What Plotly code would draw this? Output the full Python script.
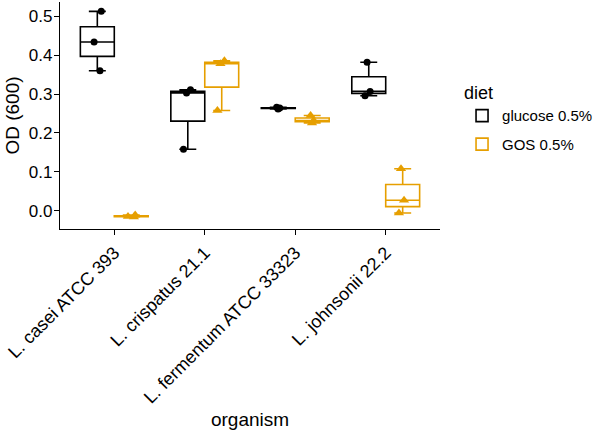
import plotly.graph_objects as go

organisms = ["L. casei ATCC 393", "L. crispatus 21.1", "L. fermentum ATCC 33323", "L. johnsonii 22.2"]

glucose_vals = {
    "L. casei ATCC 393": [0.360, 0.434, 0.513],
    "L. crispatus 21.1": [0.158, 0.303, 0.311],
    "L. fermentum ATCC 33323": [0.262, 0.264, 0.266],
    "L. johnsonii 22.2": [0.296, 0.307, 0.382],
}
gos_vals = {
    "L. casei ATCC 393": [-0.016, -0.015, -0.011],
    "L. crispatus 21.1": [0.258, 0.378, 0.386],
    "L. fermentum ATCC 33323": [0.226, 0.232, 0.245],
    "L. johnsonii 22.2": [-0.006, 0.027, 0.108],
}

diets = ["glucose 0.5%", "GOS 0.5%"]
colors = ["#000000", "#E69F00"]
symbols = ["circle", "triangle-up"]
marker_sizes = [7, 9]
y_ticks = [0.0, 0.1, 0.2, 0.3, 0.4, 0.5]

fig = go.Figure()
for name, vals, col, sym, ms in zip(diets, [glucose_vals, gos_vals], colors, symbols, marker_sizes):
    xs, ys = [], []
    for org in organisms:
        for v in vals[org]:
            xs.append(org)
            ys.append(v)
    fig.add_trace(go.Box(
        x=xs, y=ys, name=name, legendgroup=name,
        line=dict(color=col, width=1.6),
        fillcolor="rgba(255,255,255,0)",
        boxpoints="all", jitter=0.3, pointpos=0,
        marker=dict(color=col, symbol=sym, size=ms),
        quartilemethod="inclusive",
        hoverinfo="skip",
    ))

font = "Liberation Sans, Arial, sans-serif"
fig.update_layout(
    width=600, height=433,
    margin=dict(l=60, r=149, t=2, b=204),
    plot_bgcolor="white", paper_bgcolor="white",
    boxmode="group", boxgap=0.25, boxgroupgap=0,
    font=dict(family=font, color="black"),
    showlegend=True,
    legend=dict(
        title=dict(text="diet", font=dict(size=18, color="black")),
        x=1.058, xanchor="left", y=0.487, yanchor="middle",
        font=dict(size=15, color="black"),
        tracegroupgap=6,
    ),
    xaxis=dict(
        title=dict(text="organism", font=dict(size=19, color="black"), standoff=6),
        categoryorder="array", categoryarray=organisms,
        range=[-0.6, 3.6], automargin=False,
        showline=True, linecolor="black", linewidth=1.2,
        ticks="outside", ticklen=5, tickcolor="black",
        tickangle=-45,
        tickfont=dict(size=18, color="black"),
        showgrid=False, zeroline=False,
    ),
    yaxis=dict(
        title=dict(text="OD (600)", font=dict(size=19, color="black"), standoff=4),
        range=[-0.047, 0.537], automargin=False,
        tickvals=y_ticks, tickformat=".1f",
        showline=True, linecolor="black", linewidth=1.2,
        ticks="outside", ticklen=5, tickcolor="black",
        tickfont=dict(size=17, color="black"),
        ticklabelstandoff=-2,
        showgrid=False, zeroline=False,
    ),
)

fig.write_html("out.html", config={"displayModeBar": False},
               post_script="document.body.style.margin='0';document.body.style.padding='0';")
